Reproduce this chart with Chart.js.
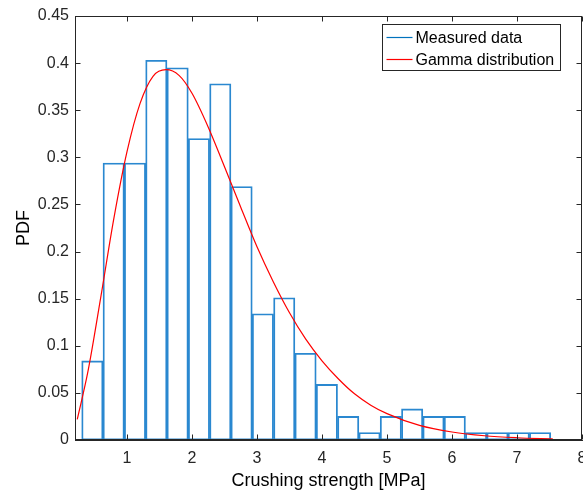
<!DOCTYPE html>
<html>
<head>
<meta charset="utf-8">
<script src="https://cdn.jsdelivr.net/npm/chart.js@4/dist/chart.umd.min.js"></script>
<style>
html, body { margin: 0; padding: 0; background: #fff; }
#wrap { width: 583px; height: 492px; position: relative; }
</style>
</head>
<body>
<div id="wrap"><canvas id="c" width="583" height="492"></canvas></div>
<script>
// ---- data ----
const binEdges = [0.303, 0.631, 0.959, 1.287, 1.615, 1.943, 2.271, 2.599, 2.927, 3.255, 3.583, 3.911,
                  4.239, 4.567, 4.895, 5.223, 5.551, 5.879, 6.207, 6.535, 6.863, 7.191, 7.519];
const measuredPdf = [0.084, 0.294, 0.294, 0.403, 0.395, 0.320, 0.378, 0.269, 0.134, 0.151, 0.092, 0.059,
                     0.025, 0.008, 0.025, 0.033, 0.025, 0.025, 0.008, 0.008, 0.008, 0.008];
const gammaX = [0.235, 0.4, 0.6, 0.8, 1.0, 1.2, 1.4, 1.6, 1.8, 2.0, 2.25, 2.5, 2.75, 3.0, 3.25, 3.5,
                3.75, 4.0, 4.25, 4.5, 4.75, 5.0, 5.5, 6.0, 6.5, 7.0, 7.55];
const gammaPdf = [0.022, 0.073, 0.153, 0.236, 0.306, 0.357, 0.386, 0.393, 0.387, 0.368, 0.332, 0.290,
                  0.247, 0.205, 0.168, 0.135, 0.107, 0.084, 0.065, 0.049, 0.037, 0.028, 0.0155, 0.0085,
                  0.0045, 0.0024, 0.0011];
const xTicks = [1, 2, 3, 4, 5, 6, 7, 8];
const yTicks = [0, 0.05, 0.1, 0.15, 0.2, 0.25, 0.3, 0.35, 0.4, 0.45];
const seriesNames = ['Measured data', 'Gamma distribution'];
const xTitle = 'Crushing strength [MPa]';
const yTitle = 'PDF';

// ---- styles ----
const AXIS = '#262626';
const BAR = '#2a88d0';
const BLUE = '#0072BD';
const RED = '#FF0000';
const FONT = "'Liberation Sans', Arial, Helvetica, sans-serif";

const barData = measuredPdf.map((v, i) => ({ x: (binEdges[i] + binEdges[i + 1]) / 2, y: v }));
const lineData = gammaX.map((x, i) => ({ x: x, y: gammaPdf[i] }));

function drawFrame(chart) {
  const ctx = chart.ctx;
  const a = chart.chartArea;
  const sx = chart.scales.x, sy = chart.scales.y;
  const l = Math.round(a.left) + 0.5, r = Math.round(a.right) - 0.5;
  const t = Math.round(a.top) + 0.5, b = Math.round(a.bottom) - 0.5;
  ctx.save();
  ctx.strokeStyle = AXIS;
  ctx.lineWidth = 1;
  ctx.strokeRect(l, t, r - l, b - t);
  ctx.beginPath();
  const L = 5;
  xTicks.forEach(v => {
    const px = Math.round(sx.getPixelForValue(v)) + 0.5;
    ctx.moveTo(px, b); ctx.lineTo(px, b - L);
    ctx.moveTo(px, t); ctx.lineTo(px, t + L);
  });
  yTicks.forEach(v => {
    const py = Math.round(sy.getPixelForValue(v)) + 0.5;
    ctx.moveTo(l, py); ctx.lineTo(l + L, py);
    ctx.moveTo(r, py); ctx.lineTo(r - L, py);
  });
  ctx.stroke();
  ctx.restore();
}

function drawLegend(chart) {
  const ctx = chart.ctx;
  const colors = [BLUE, RED];
  const bx = 382.5, by = 24.5, bw = 178, bh = 46;
  ctx.save();
  ctx.fillStyle = '#fff';
  ctx.fillRect(bx, by, bw, bh);
  ctx.strokeStyle = AXIS;
  ctx.lineWidth = 1;
  ctx.strokeRect(bx, by, bw, bh);
  ctx.font = '16px ' + FONT;
  ctx.textBaseline = 'middle';
  ctx.fillStyle = '#000';
  seriesNames.forEach((name, i) => {
    const y = by + 13 + i * 22;
    ctx.strokeStyle = colors[i];
    ctx.lineWidth = 1.2;
    ctx.beginPath();
    ctx.moveTo(bx + 4, y); ctx.lineTo(bx + 30, y);
    ctx.stroke();
    ctx.fillText(name, bx + 33, y + 1);
  });
  ctx.restore();
}

const frameAndLegend = {
  id: 'frameAndLegend',
  afterDraw(chart) { drawFrame(chart); drawLegend(chart); }
};

const axisGrid = { display: false, drawOnChartArea: false, drawTicks: false };
const axisBorder = { display: true, color: AXIS, width: 1 };

new Chart(document.getElementById('c'), {
  type: 'bar',
  data: {
    datasets: [
      {
        type: 'bar',
        label: seriesNames[0],
        data: barData,
        xAxisID: 'x',
        yAxisID: 'y',
        backgroundColor: 'rgba(255,255,255,0)',
        borderColor: BAR,
        borderWidth: 1.2,
        borderSkipped: false,
        barPercentage: 1,
        categoryPercentage: 1,
        order: 2
      },
      {
        type: 'line',
        label: seriesNames[1],
        data: lineData,
        xAxisID: 'x',
        yAxisID: 'y',
        borderColor: RED,
        borderWidth: 1.2,
        pointRadius: 0,
        fill: false,
        cubicInterpolationMode: 'monotone',
        order: 1
      }
    ]
  },
  options: {
    responsive: false,
    animation: false,
    layout: { padding: { left: 0, right: 1, top: 16, bottom: 0 } },
    plugins: { legend: { display: false }, tooltip: { enabled: false } },
    scales: {
      x: {
        type: 'linear',
        position: 'bottom',
        offset: false,
        min: 0.2,
        max: 8,
        afterBuildTicks(s) { s.ticks = xTicks.map(v => ({ value: v })); },
        afterFit(s) { s.height = 52; s.paddingRight = 0; s.paddingLeft = 0; },
        grid: axisGrid,
        border: axisBorder,
        ticks: {
          color: AXIS,
          font: { family: FONT, size: 16 },
          padding: 9,
          maxRotation: 0,
          autoSkip: false,
          callback: v => String(v)
        },
        title: {
          display: true,
          text: xTitle,
          color: '#000',
          font: { family: FONT, size: 18 },
          padding: { top: 2, bottom: 0 }
        }
      },
      y: {
        type: 'linear',
        position: 'left',
        min: 0,
        max: 0.45,
        afterBuildTicks(s) { s.ticks = yTicks.map(v => ({ value: v })); },
        afterFit(s) { s.width = 75; s.paddingTop = 0; s.paddingBottom = 0; },
        grid: axisGrid,
        border: axisBorder,
        ticks: {
          color: AXIS,
          font: { family: FONT, size: 16 },
          padding: 6,
          autoSkip: false,
          callback: v => String(Number(v.toFixed(2)))
        },
        title: {
          display: true,
          text: yTitle,
          color: '#000',
          font: { family: FONT, size: 18 },
          padding: { top: 13, bottom: 0 }
        }
      }
    }
  },
  plugins: [frameAndLegend]
});
</script>
</body>
</html>
